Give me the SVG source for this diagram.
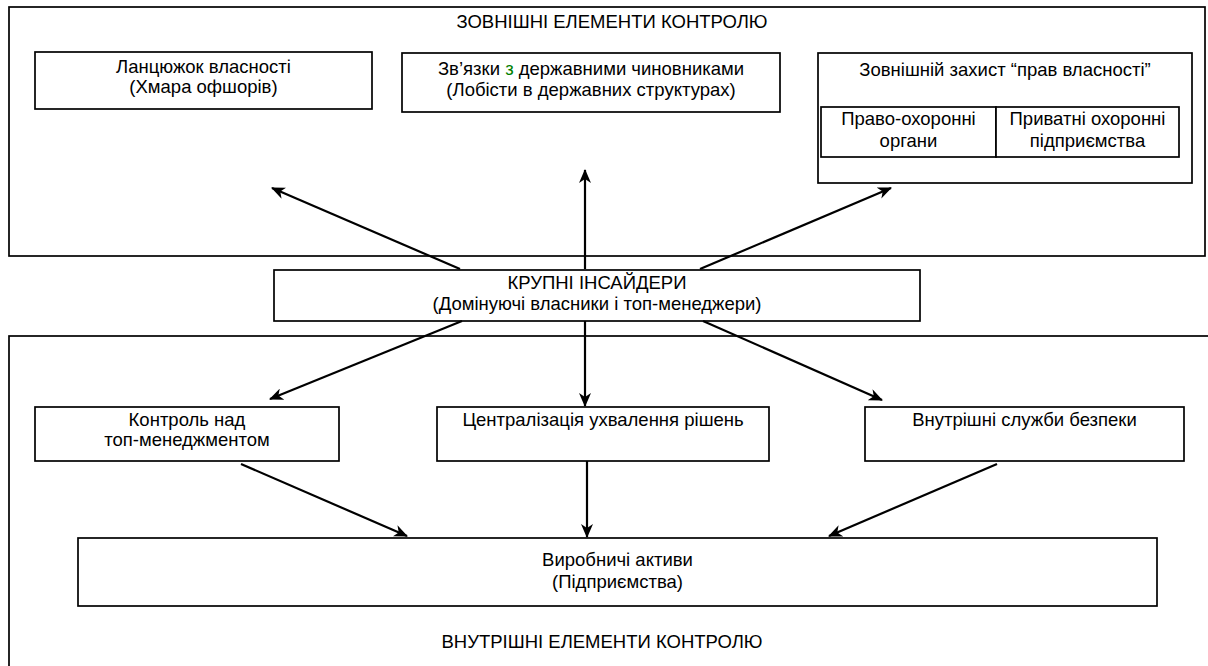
<svg xmlns="http://www.w3.org/2000/svg" width="1208" height="666" viewBox="0 0 1208 666">
<style>
.box{fill:#fff;stroke:#000;stroke-width:1.7}
.frame{fill:none;stroke:#000;stroke-width:1.7}
.t{font-family:"Liberation Sans",Arial,sans-serif;font-size:18.5px;fill:#000;text-anchor:middle}
.c{stroke:#000;stroke-width:2.2;fill:none;marker-end:url(#ah)}
</style>
<defs>
<marker id="ah" viewBox="0 0 14 12" markerWidth="14" markerHeight="12" markerUnits="userSpaceOnUse" refX="13" refY="6" orient="auto">
<path d="M0,0 L14,6 L0,12 L4,6 z" fill="#000"/>
</marker>
</defs>
<rect width="1208" height="666" fill="#fff"/>
<g id="external">
<rect class="frame" x="9" y="7" width="1196" height="249"/>
<text class="t" x="612" y="28">ЗОВНІШНІ ЕЛЕМЕНТИ КОНТРОЛЮ</text>
</g>
<g id="internal">
<rect class="frame" x="9" y="336" width="1220" height="350"/>
<text class="t" x="602" y="648">ВНУТРІШНІ ЕЛЕМЕНТИ КОНТРОЛЮ</text>
</g>
<g id="ownership">
<rect class="box" x="35" y="52" width="337" height="57"/>
<text class="t" x="203.5" y="73">Ланцюжок власності</text>
<text class="t" x="203.5" y="93">(Хмара офшорів)</text>
</g>
<g id="officials">
<rect class="box" x="402" y="53" width="378" height="59"/>
<text class="t" x="591" y="75">Зв’язки <tspan fill="#008000">з</tspan> державними чиновниками</text>
<text class="t" x="591" y="96">(Лобісти в державних структурах)</text>
</g>
<g id="protection">
<rect class="box" x="818" y="53" width="374" height="130"/>
<text class="t" x="1005" y="76">Зовнішній захист “прав власності”</text>
</g>
<g id="law-enforcement">
<rect class="box" x="821" y="107" width="175" height="50"/>
<text class="t" x="908.5" y="125">Право-охоронні</text>
<text class="t" x="908.5" y="147">органи</text>
</g>
<g id="private-security">
<rect class="box" x="996" y="107" width="183" height="50"/>
<text class="t" x="1087.5" y="125">Приватні охоронні</text>
<text class="t" x="1087.5" y="147">підприємства</text>
</g>
<g id="insiders">
<rect class="box" x="274" y="270" width="646" height="51"/>
<text class="t" x="597" y="289">КРУПНІ ІНСАЙДЕРИ</text>
<text class="t" x="597" y="310">(Домінуючі власники і топ-менеджери)</text>
</g>
<g id="management">
<rect class="box" x="35" y="407" width="304" height="54"/>
<text class="t" x="187" y="426">Контроль над</text>
<text class="t" x="187" y="446">топ-менеджментом</text>
</g>
<g id="centralization">
<rect class="box" x="437" y="407" width="332" height="54"/>
<text class="t" x="603" y="426">Централізація ухвалення рішень</text>
</g>
<g id="security">
<rect class="box" x="865" y="407" width="319" height="54"/>
<text class="t" x="1024.5" y="426">Внутрішні служби безпеки</text>
</g>
<g id="assets">
<rect class="box" x="78" y="538" width="1079" height="68"/>
<text class="t" x="617.5" y="566">Виробничі активи</text>
<text class="t" x="617.5" y="588">(Підприємства)</text>
</g>
<g id="connectors">
<line class="c" x1="460" y1="269" x2="272" y2="188"/>
<line class="c" x1="585" y1="269" x2="585" y2="170"/>
<line class="c" x1="700" y1="269" x2="891" y2="188"/>
<line class="c" x1="462" y1="321" x2="270" y2="399"/>
<line class="c" x1="585" y1="321" x2="585" y2="406"/>
<line class="c" x1="703" y1="321" x2="882" y2="400"/>
<line class="c" x1="241" y1="464" x2="407" y2="536"/>
<line class="c" x1="587" y1="461" x2="587" y2="537"/>
<line class="c" x1="997" y1="464" x2="829" y2="536"/>
</g>
</svg>
